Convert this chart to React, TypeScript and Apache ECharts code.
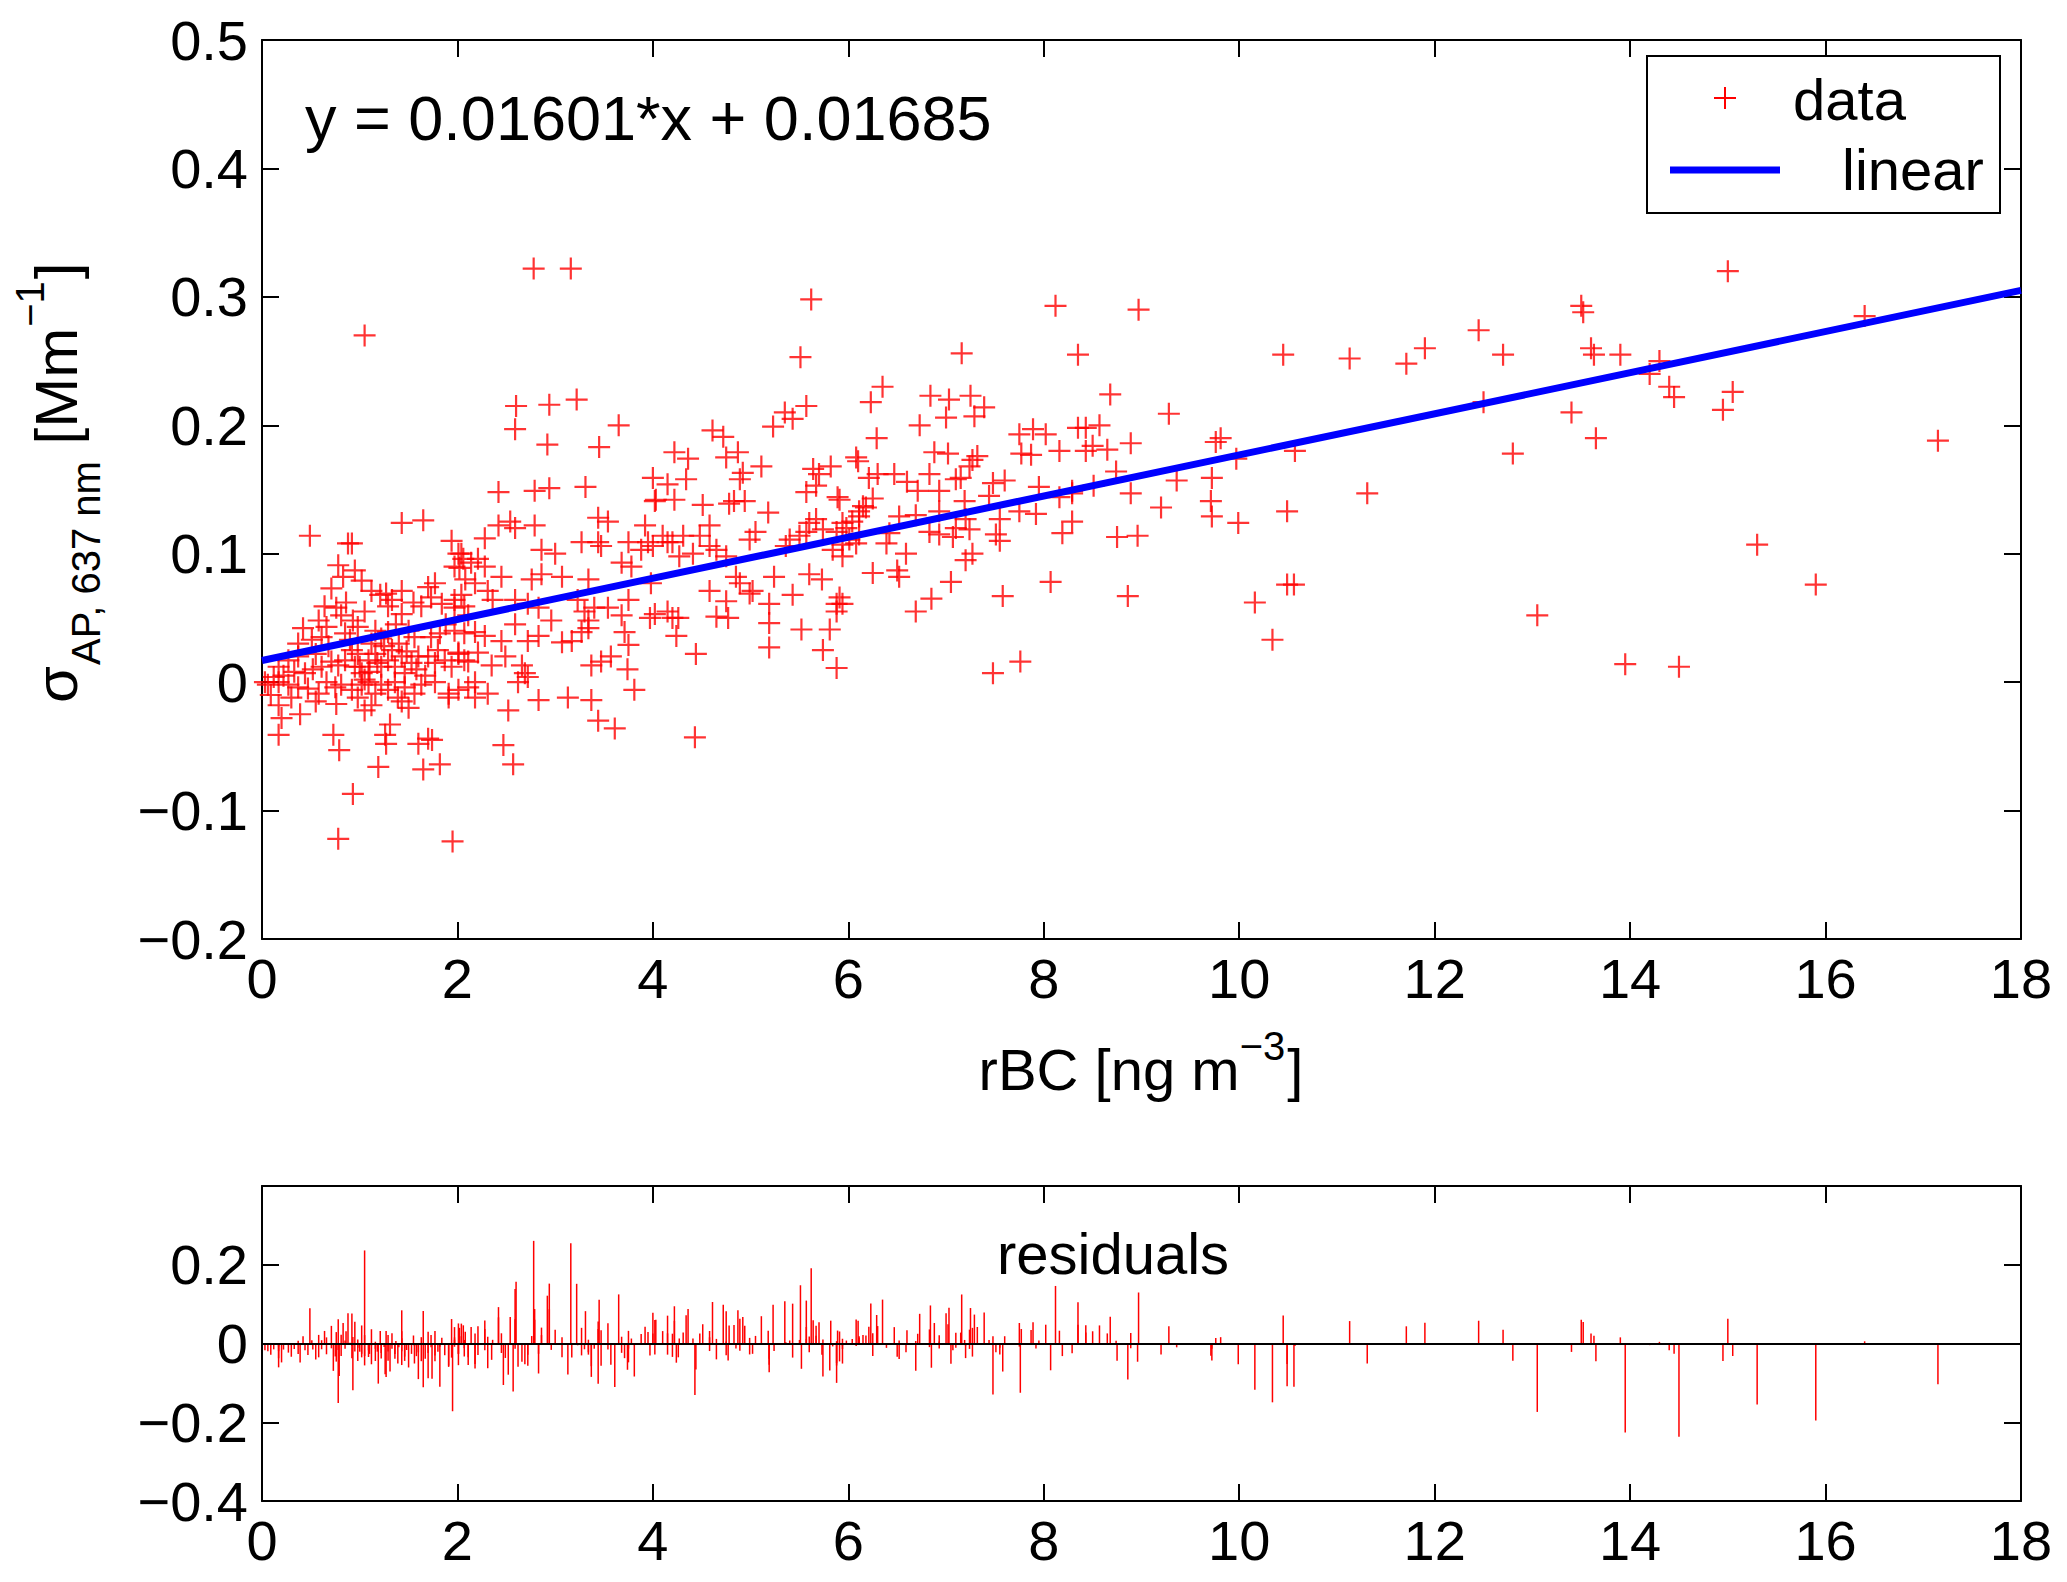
import React, { useEffect, useRef } from "react";
import * as echarts from "echarts";

// fit shown on the chart
const SLOPE = 0.01601;
const INTERCEPT = 0.01685;

// [rBC, sigma_AP] pairs, by x range
const points0to2: number[][] = [
  [0.49, 0.114], [1.43, 0.124], [1.65, 0.126], [0.92, 0.108], [0.88, 0.108], [1.94, 0.11], [2.01, 0.1],
  [2.06, 0.096], [2.02, 0.089], [0.78, 0.091], [0.83, 0.082], [0.95, 0.087], [0.71, 0.073], [1.02, 0.079],
  [1.12, 0.071], [1.21, 0.068], [1.27, 0.069], [1.33, 0.064], [1.29, 0.059], [1.43, 0.071], [1.7, 0.074],
  [1.77, 0.077], [1.73, 0.066], [0.64, 0.059], [0.76, 0.058], [0.81, 0.052], [0.93, 0.048], [0.98, 0.043],
  [1.43, 0.053], [1.63, 0.059], [1.84, 0.061], [1.97, 0.064], [2.04, 0.068], [2.07, 0.059], [0.66, 0.043],
  [0.37, 0.03], [0.51, 0.033], [0.61, 0.035], [0.85, 0.038], [1.16, 0.04], [1.29, 0.039], [1.12, 0.03],
  [1.22, 0.034], [1.5, 0.04], [1.56, 0.035], [1.73, 0.035], [1.82, 0.038], [1.97, 0.04], [2.07, 0.038],
  [0.17, 0.012], [0.27, 0.017], [0.37, 0.02], [0.44, 0.007], [0.52, 0.01], [0.61, 0.012], [0.71, 0.016],
  [0.78, 0.013], [0.85, 0.017], [0.92, 0.025], [0.98, 0.022], [0.95, 0.012], [1.02, 0.007], [1.05, 0.002],
  [1.09, 0.017], [1.16, 0.022], [1.22, 0.012], [1.29, 0.017], [1.33, 0.025], [1.36, 0.012], [1.43, 0.02],
  [1.46, 0.007], [1.53, 0.015], [1.6, 0.02], [1.7, 0.02], [1.77, 0.015], [1.87, 0.017], [1.94, 0.012],
  [2.01, 0.022], [2.07, 0.017], [0.03, 0.0], [0.06, -0.002], [0.17, 0.0], [0.27, -0.002], [0.37, -0.004],
  [0.47, -0.005], [0.58, -0.009], [0.66, 0.0], [0.75, -0.004], [0.81, -0.002], [0.92, -0.006], [1.02, -0.002],
  [1.09, 0.0], [1.16, -0.009], [1.22, -0.002], [1.29, -0.006], [1.36, 0.0], [1.46, -0.004], [1.56, -0.009],
  [1.63, -0.002], [1.77, 0.0], [1.91, -0.009], [2.01, -0.006], [2.11, -0.004], [0.17, -0.018], [0.2, -0.028],
  [0.39, -0.025], [0.17, -0.041], [0.76, -0.017], [1.05, -0.022], [0.73, -0.041], [0.79, -0.053],
  [1.31, -0.033], [1.26, -0.041], [1.27, -0.048], [1.6, -0.048], [1.74, -0.045], [1.7, -0.044],
  [1.19, -0.066], [1.65, -0.068], [1.82, -0.064], [0.93, -0.087], [0.78, -0.122], [1.95, -0.124],
  [1.39, -0.012], [1.43, -0.015], [1.91, -0.012], [1.05, 0.27],
];

// the solid red mass near the origin
const points0to2Dense: number[][] = [
  [0.22, 0.005], [0.33, 0.008], [0.55, 0.022], [0.68, 0.028], [0.9, 0.033], [1.0, 0.012], [1.1, 0.008],
  [1.18, 0.015], [1.25, 0.028], [1.4, 0.03], [1.48, 0.024], [1.58, 0.01], [1.67, 0.005], [1.8, 0.025],
  [1.88, 0.045], [0.12, 0.004], [0.09, -0.01], [0.3, -0.012], [0.55, -0.015], [0.98, -0.012],
  [1.12, -0.018], [1.5, -0.02], [0.86, 0.062], [1.05, 0.055], [1.37, 0.045], [1.55, 0.062],
  [0.58, 0.048], [0.42, 0.042],
];

const points2to4: number[][] = [
  [2.78, 0.322], [3.16, 0.322], [2.6, 0.215], [2.94, 0.216], [3.22, 0.22], [2.59, 0.197], [3.65, 0.2],
  [2.92, 0.185], [3.45, 0.183], [2.42, 0.148], [2.79, 0.149], [2.94, 0.151], [3.31, 0.152], [4.0, 0.159],
  [4.02, 0.141], [4.15, 0.154], [2.42, 0.122], [2.54, 0.125], [2.59, 0.12], [2.79, 0.122], [2.28, 0.112],
  [3.44, 0.128], [3.54, 0.125], [3.92, 0.122], [2.86, 0.103], [3.0, 0.1], [3.27, 0.109], [3.44, 0.109],
  [3.47, 0.106], [3.75, 0.109], [3.88, 0.103], [3.95, 0.109], [4.15, 0.109], [2.04, 0.1], [2.14, 0.093],
  [2.21, 0.096], [2.28, 0.09], [2.45, 0.082], [2.76, 0.08], [2.86, 0.084], [3.07, 0.082], [3.34, 0.08],
  [3.68, 0.093], [3.78, 0.09], [3.98, 0.077], [1.97, 0.09], [2.08, 0.08], [2.18, 0.077], [2.31, 0.071],
  [2.36, 0.064], [2.59, 0.064], [2.72, 0.061], [2.83, 0.058], [1.97, 0.058], [2.11, 0.052], [3.23, 0.064],
  [3.3, 0.055], [3.34, 0.048], [3.4, 0.058], [3.54, 0.058], [3.68, 0.052], [3.75, 0.064], [4.02, 0.053],
  [4.15, 0.055], [2.18, 0.039], [2.28, 0.036], [2.45, 0.032], [2.59, 0.045], [2.72, 0.032], [2.83, 0.036],
  [2.96, 0.048], [3.07, 0.031], [3.17, 0.032], [3.27, 0.039], [3.34, 0.042], [3.71, 0.039], [3.75, 0.029],
  [2.01, 0.023], [2.11, 0.016], [2.21, 0.023], [2.35, 0.013], [2.49, 0.02], [2.66, 0.013], [2.69, 0.007],
  [2.62, 0.0], [2.72, 0.004], [3.37, 0.013], [3.47, 0.016], [3.57, 0.02], [3.74, 0.01], [3.81, -0.006],
  [2.18, 0.0], [2.31, -0.009], [2.18, -0.012], [2.52, -0.022], [2.83, -0.014], [3.13, -0.012],
  [3.37, -0.014], [3.44, -0.03], [3.61, -0.036], [2.47, -0.049], [2.57, -0.064],
];

const points4to6: number[][] = [
  [5.57, 0.215], [5.35, 0.21], [5.43, 0.205], [5.23, 0.199], [4.61, 0.196], [4.72, 0.191], [4.22, 0.179],
  [4.36, 0.174], [4.75, 0.175], [4.87, 0.179], [5.11, 0.168], [4.92, 0.163], [4.89, 0.158], [4.34, 0.158],
  [4.03, 0.142], [4.22, 0.142], [4.51, 0.138], [4.78, 0.139], [4.83, 0.141], [4.94, 0.141], [5.18, 0.132],
  [5.64, 0.166], [5.7, 0.162], [5.82, 0.168], [5.57, 0.148], [5.67, 0.153], [5.89, 0.144], [6.08, 0.175],
  [6.15, 0.137], [6.11, 0.129], [4.58, 0.122], [4.1, 0.114], [4.2, 0.109], [4.31, 0.114], [4.48, 0.114],
  [4.58, 0.106], [4.0, 0.106], [4.27, 0.098], [4.41, 0.1], [4.75, 0.098], [4.65, 0.103], [4.99, 0.111],
  [5.05, 0.117], [5.6, 0.124], [5.67, 0.127], [5.74, 0.119], [5.4, 0.111], [5.5, 0.114], [5.57, 0.117],
  [5.36, 0.106], [5.94, 0.124], [5.88, 0.117], [6.01, 0.111], [6.08, 0.108], [5.84, 0.103], [5.94, 0.098],
  [3.97, 0.05], [4.2, 0.05], [4.26, 0.05], [4.58, 0.071], [4.75, 0.063], [4.65, 0.051], [4.77, 0.05],
  [4.85, 0.082], [4.89, 0.077], [4.99, 0.069], [5.02, 0.071], [5.19, 0.061], [5.19, 0.046], [5.24, 0.082],
  [5.43, 0.068], [5.6, 0.084], [5.73, 0.08], [5.88, 0.061], [5.88, 0.055], [5.52, 0.041], [5.81, 0.041],
  [5.19, 0.027], [5.74, 0.025], [5.88, 0.011], [4.24, 0.036], [4.44, 0.022], [4.43, -0.043],
  [5.51, 0.253], [5.62, 0.298],
];

const points6to8: number[][] = [
  [8.12, 0.293], [8.35, 0.255], [7.16, 0.256], [6.35, 0.23], [6.23, 0.218], [6.84, 0.223], [7.03, 0.22],
  [7.25, 0.223], [7.39, 0.214], [7.29, 0.207], [7.0, 0.206], [6.73, 0.2], [6.29, 0.19], [6.88, 0.179],
  [7.02, 0.178], [7.27, 0.173], [7.32, 0.176], [7.24, 0.168], [6.1, 0.172], [7.75, 0.193], [7.89, 0.197],
  [8.02, 0.193], [7.77, 0.178], [7.87, 0.177], [8.16, 0.18], [8.35, 0.198], [8.43, 0.198], [8.43, 0.18],
  [8.5, 0.184], [6.21, 0.159], [6.3, 0.162], [6.47, 0.162], [6.6, 0.156], [6.83, 0.162], [7.1, 0.158],
  [7.15, 0.159], [6.93, 0.149], [6.71, 0.149], [7.48, 0.155], [7.6, 0.157], [7.44, 0.145], [7.19, 0.141],
  [7.95, 0.152], [8.29, 0.149], [5.91, 0.142], [6.11, 0.133], [6.18, 0.136], [6.25, 0.143], [6.04, 0.125],
  [6.52, 0.129], [6.69, 0.13], [6.93, 0.133], [7.1, 0.12], [7.2, 0.127], [7.55, 0.127], [7.75, 0.133],
  [7.92, 0.131], [8.16, 0.144], [8.29, 0.147], [5.98, 0.12], [5.94, 0.107], [6.11, 0.115], [6.42, 0.116],
  [6.39, 0.108], [6.83, 0.117], [6.93, 0.115], [7.07, 0.113], [7.24, 0.119], [7.51, 0.115], [7.55, 0.11],
  [8.19, 0.116], [8.29, 0.125], [6.59, 0.1], [6.25, 0.085], [6.5, 0.087], [6.52, 0.082], [7.05, 0.078],
  [7.2, 0.095], [7.27, 0.1], [8.07, 0.078], [7.58, 0.067], [6.85, 0.065], [6.69, 0.055], [5.91, 0.066],
  [5.94, 0.061], [7.48, 0.007], [7.76, 0.016],
];

const points8to12: number[][] = [
  [8.97, 0.29], [10.45, 0.255], [11.13, 0.252], [11.71, 0.248], [8.68, 0.224], [9.28, 0.209], [8.57, 0.2],
  [8.65, 0.181], [8.89, 0.186], [9.81, 0.19], [9.76, 0.187], [9.97, 0.174], [10.57, 0.18], [8.74, 0.164],
  [8.51, 0.153], [9.36, 0.157], [9.72, 0.159], [8.89, 0.147], [9.2, 0.136], [9.71, 0.141], [9.72, 0.129],
  [9.99, 0.124], [10.49, 0.133], [11.31, 0.147], [8.75, 0.113], [8.96, 0.114], [8.86, 0.067],
  [10.49, 0.076], [10.56, 0.076], [10.16, 0.062], [10.34, 0.033],
];

const points12to18: number[][] = [
  [11.9, 0.26], [12.45, 0.274], [12.7, 0.255], [12.5, 0.218], [12.8, 0.178], [13.05, 0.052], [13.4, 0.21],
  [13.5, 0.293], [13.52, 0.288], [13.6, 0.26], [13.63, 0.255], [13.65, 0.19], [13.9, 0.255], [13.95, 0.014],
  [14.2, 0.24], [14.3, 0.25], [14.4, 0.23], [14.45, 0.222], [14.5, 0.012], [14.95, 0.212], [15.0, 0.32],
  [15.05, 0.226], [15.3, 0.107], [15.9, 0.076], [16.4, 0.285], [17.15, 0.188],
];

const FONT = "'Liberation Sans', Arial, Helvetica, sans-serif";
const PLUS = "path://M9,0h2v9h9v2h-9v9h-2v-9h-9v-2h9z";

const fmtTick = (v: number) => {
  const r = Math.round(v * 10) / 10;
  if (r === 0) return "0";
  const s = Math.abs(r).toString();
  return r < 0 ? "\u2212" + s : s;
};

const measure = (() => {
  const ctx = document.createElement("canvas").getContext("2d")!;
  return (text: string, size: number) => {
    ctx.font = `${size}px ${FONT}`;
    return ctx.measureText(text).width;
  };
})();

const txt = (text: string, x: number, y: number, size: number, extra: any = {}) => ({
  type: "text",
  x,
  y,
  z: 100,
  silent: true,
  style: {
    text,
    fontSize: size,
    fontFamily: FONT,
    fill: "#000",
    align: "left",
    verticalAlign: "middle",
    textAlign: "left",
    textVerticalAlign: "middle",
    ...extra,
  },
});

const App: React.FC = () => {
  const chartRef = useRef<HTMLDivElement>(null);

  useEffect(() => {
    if (!chartRef.current) return;
    document.body.style.margin = "0";
    const chart = echarts.init(chartRef.current, undefined, { renderer: "svg" });

    const points = [
      ...points0to2,
      ...points0to2Dense,
      ...points2to4,
      ...points4to6,
      ...points6to8,
      ...points8to12,
      ...points12to18,
    ];
    const fit = (x: number) => SLOPE * x + INTERCEPT;
    const residuals = points.map(([x, y]) => [x, y - fit(x)]);

    const axisLine = { show: true, onZero: false, lineStyle: { color: "#000", width: 2 } };
    const axisTick = { show: true, inside: true, length: 17, lineStyle: { color: "#000", width: 2 } };
    const label = { fontSize: 56, fontFamily: FONT, color: "#000" };

    const xBase = (gridIndex: number, position: string, showLabel: boolean) => ({
      type: "value",
      gridIndex,
      position,
      min: 0,
      max: 18,
      interval: 2,
      axisLine,
      axisTick,
      splitLine: { show: false },
      axisLabel: { show: showLabel, margin: 11, formatter: fmtTick, ...label },
    });

    const yBase = (gridIndex: number, position: string, showLabel: boolean, min: number, max: number, interval: number) => ({
      type: "value",
      gridIndex,
      position,
      min,
      max,
      interval,
      axisLine,
      axisTick,
      splitLine: { show: false },
      axisLabel: {
        show: showLabel,
        margin: 14,
        formatter: (v: number) => (Math.abs(v - max) < 1e-9 && gridIndex === 1 ? "" : fmtTick(v)),
        ...label,
      },
    });

    // y axis title: sigma_{AP, 637 nm} [Mm^{-1}], rotated
    const mainSize = 60;
    const subSize = 40;
    const sub = "AP, 637 nm";
    const xs1 = measure("\u03c3", mainSize) + 1;
    const xs2 = xs1 + measure(sub, subSize) + measure(" ", mainSize);
    const xs3 = xs2 + measure("[Mm", mainSize) + 1;
    const xs4 = xs3 + measure("\u22121", subSize) + 2;
    const yTitle = {
      type: "group",
      x: 0,
      y: 703,
      rotation: Math.PI / 2,
      children: [
        txt("\u03c3", 0, 56, mainSize),
        txt(sub, xs1, 86, subSize),
        txt("[Mm", xs2, 56, mainSize),
        txt("\u22121", xs3, 30, subSize),
        txt("]", xs4, 56, mainSize),
      ],
    };

    // x axis title: rBC [ng m^{-3}]
    const xa = "rBC [ng m";
    const wa = measure(xa, 58);
    const wb = measure("\u22123", 40);
    const wc = measure("]", 58);
    const x0 = 1141 - (wa + wb + wc + 2) / 2;
    const xTitle = [
      txt(xa, x0, 1069, 58),
      txt("\u22123", x0 + wa, 1046, 40),
      txt("]", x0 + wa + wb + 2, 1069, 58),
    ];

    const legend = [
      {
        type: "rect",
        z: 99,
        silent: true,
        shape: { x: 1647, y: 56, width: 353, height: 157 },
        style: { fill: "#fff", stroke: "#000", lineWidth: 2 },
      },
      { type: "line", z: 100, silent: true, shape: { x1: 1714, y1: 98, x2: 1736, y2: 98 }, style: { stroke: "#ff0000", lineWidth: 2 } },
      { type: "line", z: 100, silent: true, shape: { x1: 1725, y1: 87, x2: 1725, y2: 109 }, style: { stroke: "#ff0000", lineWidth: 2 } },
      txt("data", 1793, 99, 58),
      { type: "line", z: 100, silent: true, shape: { x1: 1670, y1: 170, x2: 1780, y2: 170 }, style: { stroke: "#0000ff", lineWidth: 7 } },
      txt("linear", 1842, 169, 58),
    ];

    const option: any = {
      animation: false,
      backgroundColor: "#fff",
      grid: [
        { left: 262, top: 40, width: 1759, height: 899 },
        { left: 262, top: 1186, width: 1759, height: 315 },
      ],
      xAxis: [xBase(0, "bottom", true), xBase(0, "top", false), xBase(1, "bottom", true), xBase(1, "top", false)],
      yAxis: [
        yBase(0, "left", true, -0.2, 0.5, 0.1),
        yBase(0, "right", false, -0.2, 0.5, 0.1),
        yBase(1, "left", true, -0.4, 0.4, 0.2),
        yBase(1, "right", false, -0.4, 0.4, 0.2),
      ],
      series: [
        {
          name: "data",
          type: "scatter",
          xAxisIndex: 0,
          yAxisIndex: 0,
          symbol: PLUS,
          symbolSize: 22,
          itemStyle: { color: "#ff0000" },
          data: points,
          z: 2,
        },
        {
          name: "linear",
          type: "line",
          xAxisIndex: 0,
          yAxisIndex: 0,
          symbol: "none",
          lineStyle: { color: "#0000ff", width: 7 },
          data: [
            [0, fit(0)],
            [18, fit(18)],
          ],
          z: 3,
        },
        {
          name: "residuals",
          type: "bar",
          xAxisIndex: 2,
          yAxisIndex: 2,
          barWidth: 1.5,
          itemStyle: { color: "#ff0000" },
          data: residuals,
          markLine: {
            silent: true,
            symbol: "none",
            label: { show: false },
            lineStyle: { color: "#000", width: 2, type: "solid" },
            data: [{ yAxis: 0 }],
          },
        },
      ],
      graphic: [
        txt("y = 0.01601*x + 0.01685", 305, 118, 63),
        ...legend,
        yTitle,
        ...xTitle,
        txt("residuals", 1113, 1253, 58, { align: "center", textAlign: "center" }),
      ],
    };

    chart.setOption(option);

    return () => {
      chart.dispose();
    };
  }, []);

  return <div ref={chartRef} style={{ width: "2067px", height: "1582px" }} />;
};

export default App;
